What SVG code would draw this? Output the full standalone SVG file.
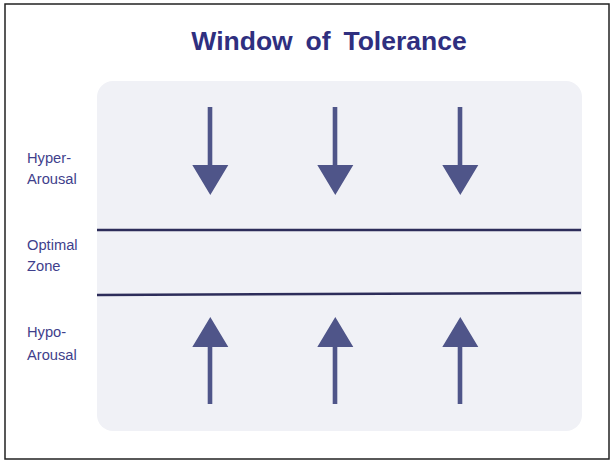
<svg xmlns="http://www.w3.org/2000/svg" width="613" height="460" viewBox="0 0 613 460">
<style>
.lbl{font-family:"Liberation Sans",Arial,sans-serif;font-size:14.7px;fill:#3f3f8c}
.title{font-family:"Liberation Sans",Arial,sans-serif;font-size:26.5px;font-weight:bold;fill:#2f2f7f;word-spacing:5.5px}
.arrow{fill:#4f5589}
.zline{stroke:#2d2d5a;stroke-width:2.5;fill:none}
</style>
<rect x="0" y="0" width="613" height="460" fill="#ffffff"/>
<rect x="5" y="4" width="604" height="455" fill="#ffffff" stroke="#222222" stroke-width="1.5"/>
<text class="title" x="329" y="50" text-anchor="middle">Window of Tolerance</text>
<g id="panel">
<rect x="97" y="81" width="485" height="350" rx="16" fill="#f0f1f6"/>
</g>
<g id="label-hyper">
<text class="lbl" x="27" y="163">Hyper-</text>
<text class="lbl" x="27" y="184">Arousal</text>
</g>
<g id="label-optimal">
<text class="lbl" x="27" y="250">Optimal</text>
<text class="lbl" x="27" y="271">Zone</text>
</g>
<g id="label-hypo">
<text class="lbl" x="27" y="337">Hypo-</text>
<text class="lbl" x="27" y="360">Arousal</text>
</g>
<g id="connectors">
<line class="zline" x1="97" y1="230" x2="581" y2="230"/>
<line class="zline" x1="97" y1="295" x2="581" y2="293"/>
</g>
<g id="arrows-down">
<path class="arrow" d="M207.7 107h4.6v58h16l-18 30l-18-30h15.4z"/>
<path class="arrow" d="M332.7 107h4.6v58h16l-18 30l-18-30h15.4z"/>
<path class="arrow" d="M457.7 107h4.6v58h16l-18 30l-18-30h15.4z"/>
</g>
<g id="arrows-up">
<path class="arrow" d="M207.7 404h4.6v-57h16l-18-30l-18 30h15.4z"/>
<path class="arrow" d="M332.7 404h4.6v-57h16l-18-30l-18 30h15.4z"/>
<path class="arrow" d="M457.7 404h4.6v-57h16l-18-30l-18 30h15.4z"/>
</g>
</svg>
